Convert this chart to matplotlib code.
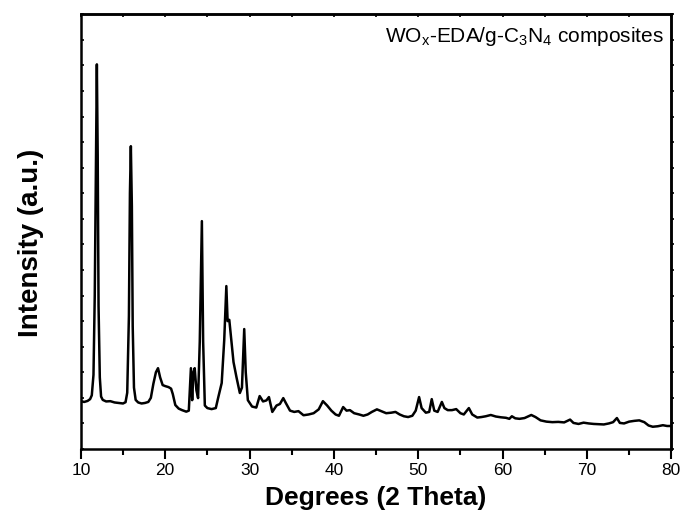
import matplotlib
matplotlib.use("Agg")
import matplotlib.pyplot as plt
from matplotlib.ticker import MultipleLocator, NullFormatter

plt.rcParams["font.family"] = ["Liberation Sans", "DejaVu Sans"]
plt.rcParams["mathtext.fontset"] = "custom"
plt.rcParams["mathtext.rm"] = "Liberation Sans"

# XRD pattern (2 theta, intensity in a.u.)
two_theta = [
    10.0, 10.4, 10.8, 11.1, 11.3, 11.5, 11.65, 11.8, 11.9, 12.0, 12.1, 12.25, 12.4, 12.6,
    13.0, 13.5, 14.0, 14.5, 15.0, 15.3, 15.5, 15.7, 15.82, 15.93, 16.05, 16.15, 16.3, 16.5,
    16.8, 17.2, 17.6, 18.0, 18.3, 18.6, 18.9, 19.15, 19.4, 19.7, 20.0, 20.4, 20.7, 20.9,
    21.2, 21.6, 22.0, 22.5, 22.8, 23.05, 23.2, 23.35, 23.5, 23.7, 23.9, 24.1, 24.35, 24.5,
    24.7, 25.0, 25.5, 26.0, 26.3, 26.7, 27.0, 27.25, 27.4, 27.6, 27.8, 28.1, 28.45, 28.85,
    29.1, 29.37, 29.55, 29.8, 30.3, 30.8, 31.2, 31.6, 32.0, 32.3, 32.7, 33.2, 33.6, 34.0,
    34.3, 34.8, 35.3, 35.8, 36.4, 37.0, 37.6, 38.2, 38.7, 39.2, 39.7, 40.2, 40.6, 41.1,
    41.5, 41.9, 42.4, 43.0, 43.5, 44.0, 44.5, 45.1, 45.6, 46.2, 46.8, 47.3, 47.8, 48.3,
    48.8, 49.3, 49.7, 50.1, 50.4, 50.9, 51.3, 51.6, 51.9, 52.3, 52.8, 53.1, 53.5, 54.0,
    54.5, 55.0, 55.4, 56.0, 56.4, 57.0, 57.5, 58.0, 58.6, 59.2, 59.8, 60.4, 60.8, 61.1,
    61.5, 62.0, 62.6, 63.4, 63.9, 64.5, 65.2, 65.9, 66.6, 67.3, 68.0, 68.4, 69.0, 69.6,
    70.2, 70.8, 71.4, 72.0, 72.6, 73.1, 73.55, 73.9, 74.4, 75.0, 75.6, 76.2, 76.8, 77.3,
    77.8, 78.4, 79.0, 79.5, 80.0,
]
intensity = [
    187, 184, 188, 195, 210, 290, 600, 1150, 1504, 1150, 560, 280, 205, 192,
    186, 187, 182, 180, 178, 183, 220, 520, 1000, 1184, 950, 480, 240, 192,
    182, 178, 180, 184, 200, 255, 300, 316, 280, 250, 246, 242, 236, 215,
    172, 158, 152, 146, 150, 316, 191, 300, 316, 230, 199, 420, 891, 420,
    170, 160, 156, 160, 203, 258, 426, 637, 500, 505, 440, 340, 281, 219,
    240, 469, 300, 191, 166, 162, 207, 186, 190, 203, 145, 170, 176, 199,
    180, 150, 145, 148, 132, 135, 140, 155, 187, 170, 150, 135, 130, 164,
    150, 152, 140, 135, 130, 135, 145, 155, 148, 140, 142, 145, 135, 128,
    125, 130, 150, 203, 160, 142, 145, 195, 150, 145, 184, 160, 152, 152,
    156, 140, 135, 160, 135, 123, 125, 128, 133, 127, 124, 122, 118, 128,
    120, 118, 121, 133, 125, 112, 107, 105, 106, 104, 115, 102, 98, 103,
    100, 98, 97, 96, 100, 105, 121, 102, 100, 107, 110, 112, 105, 92,
    87, 89, 93, 90, 90,
]

fig = plt.figure(figsize=(6.85, 5.27), dpi=100)
ax = fig.add_axes([0.118, 0.148, 0.862, 0.825])

ax.plot(two_theta, intensity, color="black", linewidth=1.8)

ax.set_xlim(10, 80)
ax.set_ylim(0, 1700)

ax.xaxis.set_major_locator(MultipleLocator(10))
ax.xaxis.set_minor_locator(MultipleLocator(5))
ax.yaxis.set_major_locator(MultipleLocator(100))
ax.yaxis.set_major_formatter(NullFormatter())

# bottom ticks point out, left ticks in, right ticks out
ax.tick_params(axis="x", which="major", direction="out", length=7, width=1.5,
               labelsize=12.5, pad=3, top=False)
ax.tick_params(axis="x", which="minor", direction="out", length=4, width=1.5, top=False)
ax.tick_params(axis="y", which="major", direction="in", length=2.5, width=1.2)

sec = ax.secondary_yaxis("right")
sec.yaxis.set_major_locator(MultipleLocator(100))
sec.yaxis.set_major_formatter(NullFormatter())
sec.tick_params(direction="out", length=2.5, width=1.2)
sec.spines["right"].set_linewidth(1.8)

top = ax.secondary_xaxis("top")
top.xaxis.set_major_locator(MultipleLocator(5))
top.xaxis.set_major_formatter(NullFormatter())
top.tick_params(direction="in", length=2.5, width=1.2)
top.spines["top"].set_linewidth(1.8)

for side in ["left", "bottom", "top", "right"]:
    ax.spines[side].set_linewidth(1.8)

ax.set_xlabel("Degrees (2 Theta)", fontsize=19, fontweight="bold", labelpad=6)
ax.set_ylabel("Intensity (a.u.)", fontsize=20, fontweight="bold")
ax.yaxis.set_label_coords(-0.063, 0.475)

ax.text(0.987, 0.975, r"WO$_\mathregular{x}$-EDA/g-C$_\mathregular{3}$N$_\mathregular{4}$ composites",
        transform=ax.transAxes, ha="right", va="top", fontsize=15)

fig.savefig("out.png", dpi=100)
